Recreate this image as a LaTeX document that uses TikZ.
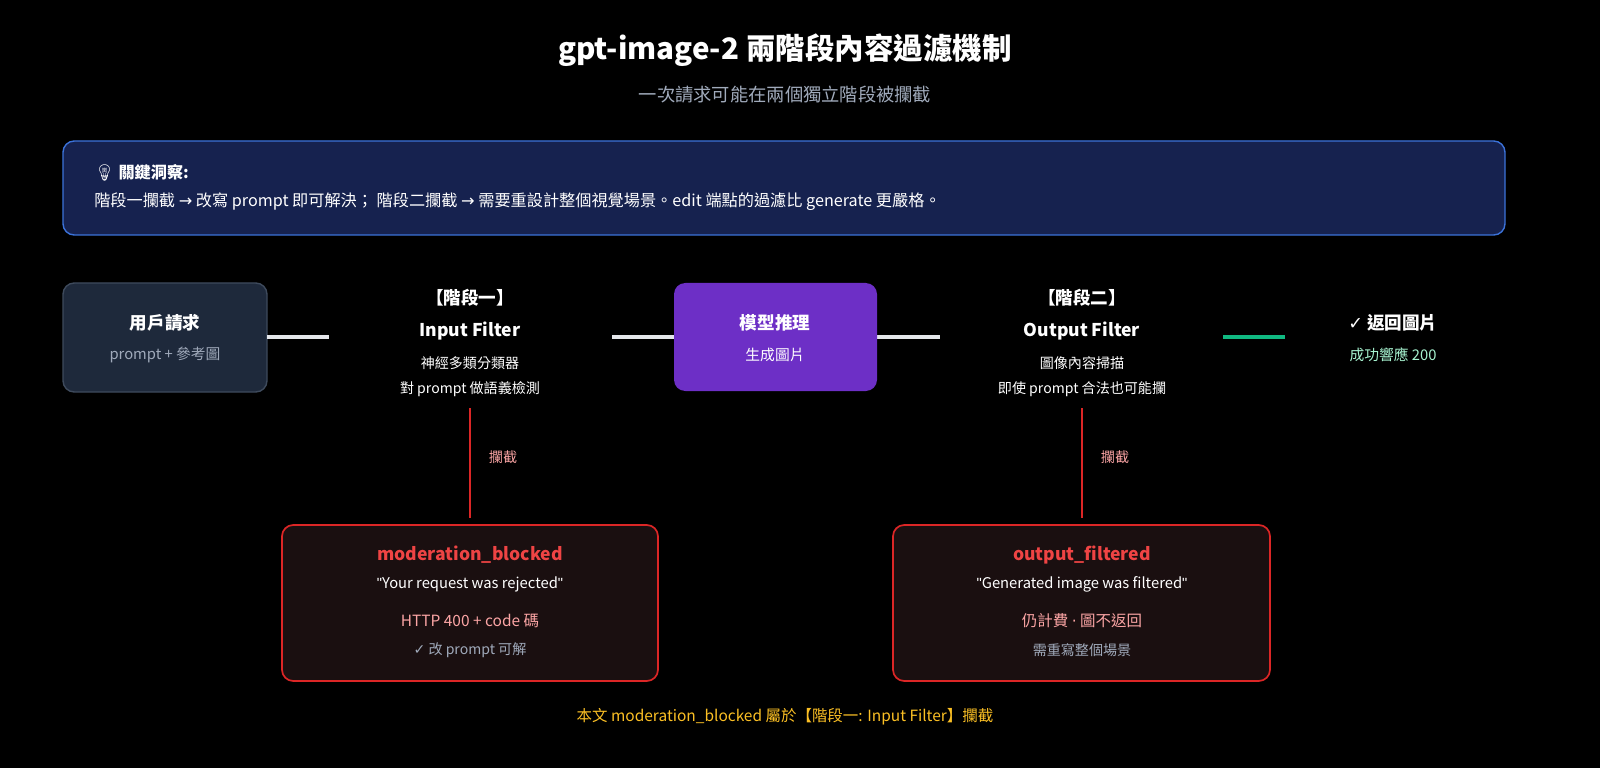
\documentclass[tikz,border=0pt]{standalone}
\usepackage{fontspec}
\setmainfont{Noto Sans CJK TC}
\newfontfamily\symf{DejaVu Sans}
\newfontfamily\qf{Liberation Sans}
\newfontfamily\emoj{Noto Emoji}
\newcommand{\dq}{{\qf\char34}}
\definecolor{bg}{HTML}{000000}
\definecolor{insfill}{HTML}{16224F}
\definecolor{insborder}{HTML}{3B72D9}
\definecolor{userfill}{HTML}{1E293B}
\definecolor{userborder}{HTML}{3E4A5C}
\definecolor{purp}{HTML}{6D2FC6}
\definecolor{graytxt}{HTML}{A0AABB}
\definecolor{redb}{HTML}{DC2626}
\definecolor{redt}{HTML}{EF4444}
\definecolor{salmon}{HTML}{FCA5A5}
\definecolor{redfill}{HTML}{1A0F10}
\definecolor{greenl}{HTML}{10B981}
\definecolor{greent}{HTML}{A7F3D0}
\definecolor{footc}{HTML}{FBBF24}
\definecolor{linec}{HTML}{E5E7EB}
\begin{document}
\begin{tikzpicture}[x=0.025cm,y=-0.025cm,
  txt/.style={inner sep=0pt,text=white,font=\fontsize{10.5}{12}\selectfont},
  head/.style={inner sep=0pt,text=white,font=\fontsize{12.5}{14}\selectfont\bfseries},
  sub/.style={inner sep=0pt,text=graytxt,font=\fontsize{10.5}{12}\selectfont},
  flow/.style={draw=linec,line width=2.2pt},
  block/.style={draw=redb,line width=1.6pt},
  errbox/.style={draw=redb,line width=1.2pt,fill=redfill,rounded corners=8pt}]
\fill[bg] (0,0) rectangle (1600,768);
\useasboundingbox (0,0) rectangle (1600,768);
\node[inner sep=0pt,text=white,font=\fontsize{21}{24}\selectfont\bfseries] (title) at (785,50) {gpt-image-2 兩階段內容過濾機制};
\node[inner sep=0pt,text=graytxt,font=\fontsize{13}{15}\selectfont] (subt) at (785,95) {一次請求可能在兩個獨立階段被攔截};
% insight
\draw[fill=insfill,draw=insborder,line width=1pt,rounded corners=8pt] (63,141) rectangle (1505,235);
\node[head,anchor=west,font=\fontsize{11.5}{14}\selectfont\bfseries] (ins1) at (94,173) {{\emoj 💡} 關鍵洞察:};
\node[txt,anchor=west,font=\fontsize{11.5}{14}\selectfont] (ins2) at (94,202) {階段一攔截 {\symf →} 改寫 prompt 即可解決； 階段二攔截 {\symf →} 需要重設計整個視覺場景。edit 端點的過濾比 generate 更嚴格。};
% user
\draw[draw=userborder,fill=userfill,line width=1pt,rounded corners=8pt] (63,283) rectangle (267,392);
\node[head] (u1) at (165,323) {用戶請求};
\node[sub] (u2) at (165,355) {prompt + 參考圖};
\coordinate (uR) at (267,337);
\coordinate (s1L) at (329,337);
\coordinate (s1R) at (612,337);
\coordinate (mL) at (674,337);
\coordinate (mR) at (877,337);
\coordinate (s2L) at (940,337);
\coordinate (s2R) at (1223,337);
\coordinate (okL) at (1285,337);
\draw[flow] (uR) -- (s1L);
\draw[flow] (s1R) -- (mL);
\draw[flow] (mR) -- (s2L);
\draw[draw=greenl,line width=2.2pt] (s2R) -- (okL);
% stage1
\node[head] (a1) at (470,298) {【階段一】};
\node[head] (a2) at (470,331) {Input Filter};
\node[txt,font=\fontsize{10}{12}\selectfont] (a3) at (470,363) {神經多類分類器};
\node[txt,font=\fontsize{10}{12}\selectfont] (a4) at (470,389) {對 prompt 做語義檢測};
% model
\draw[fill=purp,draw=none,rounded corners=8pt] (674,283) rectangle (877,391);
\node[head] (m1) at (775,323) {模型推理};
\node[txt] (m2) at (775,355) {生成圖片};
% stage2
\node[head] (b1) at (1082,298) {【階段二】};
\node[head] (b2) at (1082,331) {Output Filter};
\node[txt,font=\fontsize{10}{12}\selectfont] (b3) at (1082,363) {圖像內容掃描};
\node[txt,font=\fontsize{10}{12}\selectfont] (b4) at (1082,389) {即使 prompt 合法也可能攔};
% ok
\node[head] (o1) at (1393,323) {{\symf ✓} 返回圖片};
\node[inner sep=0pt,text=greent,font=\fontsize{10.5}{12}\selectfont] (o2) at (1393,355) {成功響應 200};
% block lines
\coordinate (d1t) at (470,408); \coordinate (d1b) at (470,518);
\coordinate (d2t) at (1082,408); \coordinate (d2b) at (1082,518);
\draw[block] (d1t) -- (d1b);
\draw[block] (d2t) -- (d2b);
\node[inner sep=0pt,text=salmon,font=\fontsize{10}{12}\selectfont] (l1) at (503,457) {攔截};
\node[inner sep=0pt,text=salmon,font=\fontsize{10}{12}\selectfont] (l2) at (1115,457) {攔截};
% error boxes
\draw[errbox] (282,525) rectangle (658,681);
\node[inner sep=0pt,text=redt,font=\fontsize{12.5}{14}\selectfont\bfseries] (e1) at (470,555) {moderation\_blocked};
\node[txt] (e2) at (470,584) {\dq Your request was rejected\dq};
\node[inner sep=0pt,text=salmon,font=\fontsize{11}{13}\selectfont] (e3) at (470,621) {HTTP 400 + code 碼};
\node[sub,font=\fontsize{10}{12}\selectfont] (e4) at (470,650) {{\symf ✓} 改 prompt 可解};
\draw[errbox] (893,525) rectangle (1270,681);
\node[inner sep=0pt,text=redt,font=\fontsize{12.5}{14}\selectfont\bfseries] (f1) at (1082,555) {output\_filtered};
\node[txt] (f2) at (1082,584) {\dq Generated image was filtered\dq};
\node[inner sep=0pt,text=salmon,font=\fontsize{11}{13}\selectfont] (f3) at (1082,621) {仍計費 {\symf ·} 圖不返回};
\node[sub,font=\fontsize{10}{12}\selectfont] (f4) at (1082,650) {需重寫整個場景};
% footer
\node[inner sep=0pt,text=footc,font=\fontsize{11}{13}\selectfont] (foot) at (785,717) {本文 moderation\_blocked 屬於【階段一: Input Filter】攔截};
\end{tikzpicture}
\end{document}
